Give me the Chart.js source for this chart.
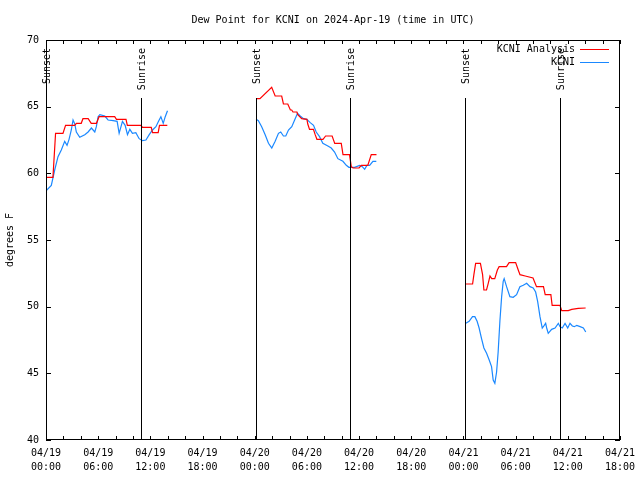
<!DOCTYPE html>
<html>
<head>
<meta charset="utf-8">
<script src="https://cdn.jsdelivr.net/npm/chart.js@4.4.1/dist/chart.umd.min.js"></script>
<style>
  html, body { margin: 0; padding: 0; background: #fff; }
</style>
</head>
<body>
<canvas id="dewChart" width="640" height="480"></canvas>
<script>
// hours since 2024-04-19 00:00 UTC, null dew = gap in the record
const analysisHours = [
  0, 0.8, 1.1, 1.95, 2.25, 3.3, 3.5, 4.05, 4.25, 4.85, 5.2, 5.8, 6.1, 7.9, 8.1, 9.2, 9.35, 10.9, 11.1, 12.1, 12.25, 12.9, 13.05, 13.95,
  19,
  24.15, 24.6, 25.95, 26.35, 27.1, 27.3, 27.8, 28.1, 28.25, 28.4, 28.85, 28.95, 29.25, 29.4, 30.0, 30.1, 30.3, 30.75, 30.95, 31.15, 31.85, 32.15, 32.9, 33.2, 33.95, 34.15, 34.9, 35.1, 35.3, 36.0, 36.25, 37.0, 37.4, 38.0,
  43,
  48.25, 49.05, 49.2, 49.4, 49.95, 50.2, 50.35, 50.65, 50.85, 51.05, 51.25, 51.6, 51.9, 52.1, 52.95, 53.25, 54.0, 54.3, 54.5, 55.1, 56.0, 56.4, 57.2, 57.4, 58.05, 58.2, 59.1, 59.3, 60.05, 60.45, 61.2, 62.05
];
const analysisDew = [
  59.7, 59.7, 63.0, 63.0, 63.6, 63.6, 63.75, 63.75, 64.1, 64.1, 63.75, 63.75, 64.25, 64.25, 64.05, 64.05, 63.6, 63.6, 63.45, 63.45, 63.05, 63.05, 63.6, 63.6,
  null,
  65.6, 65.6, 66.45, 65.8, 65.8, 65.2, 65.2, 64.75, 64.75, 64.6, 64.6, 64.4, 64.2, 64.1, 64.05, 63.7, 63.3, 63.3, 62.9, 62.55, 62.55, 62.8, 62.8, 62.25, 62.25, 61.4, 61.4, 60.5, 60.4, 60.4, 60.6, 60.6, 61.4, 61.4,
  null,
  51.7, 51.7, 52.4, 53.25, 53.25, 52.4, 51.25, 51.25, 51.75, 52.3, 52.1, 52.1, 52.75, 53.0, 53.0, 53.3, 53.3, 52.75, 52.4, 52.3, 52.15, 51.5, 51.5, 50.9, 50.9, 50.1, 50.1, 49.7, 49.7, 49.8, 49.87, 49.9
];

const obsHours = [
  0.03, 0.61, 1.0, 1.38, 1.76, 2.15, 2.42, 2.65, 2.91, 3.11, 3.31, 3.49, 3.88, 4.46, 4.84, 5.22, 5.61, 5.79, 5.99, 6.19, 6.76, 7.14, 7.72, 8.18, 8.41, 8.79, 9.10, 9.37, 9.64, 9.94, 10.33, 10.71, 11.09, 11.49, 11.87, 12.25, 12.64, 12.94, 13.21, 13.48, 13.71, 13.97,
  19,
  24.16, 24.42, 24.80, 25.20, 25.58, 25.96, 26.35, 26.73, 26.99, 27.30, 27.57, 27.88, 28.26, 28.65, 28.92, 29.23, 29.61, 29.99, 30.38, 30.76, 31.07, 31.45, 31.83, 32.41, 32.80, 33.18, 33.56, 34.14, 34.53, 34.83, 35.48, 36.06, 36.37, 36.64, 36.90, 37.21, 37.59, 37.98,
  43,
  48.27, 48.65, 49.04, 49.31, 49.57, 49.80, 50.08, 50.35, 50.66, 50.96, 51.23, 51.42, 51.61, 51.81, 51.99, 52.19, 52.39, 52.57, 52.68, 52.96, 53.34, 53.72, 54.11, 54.49, 54.88, 55.27, 55.65, 56.02, 56.30, 56.53, 56.80, 57.06, 57.29, 57.45, 57.57, 57.75, 58.14, 58.53, 58.91, 59.10, 59.36, 59.68, 59.99, 60.25, 60.52, 60.75, 61.03, 61.41, 61.79, 62.06
];
const obsDew = [
  58.7, 59.1, 60.25, 61.25, 61.75, 62.4, 62.1, 62.55, 63.25, 64.0, 63.7, 63.1, 62.7, 62.9, 63.1, 63.4, 63.1, 63.5, 64.25, 64.4, 64.3, 64.0, 63.95, 63.9, 63.0, 63.9, 63.6, 62.9, 63.3, 63.0, 63.05, 62.6, 62.45, 62.5, 62.9, 63.25, 63.5, 63.9, 64.25, 63.75, 64.25, 64.7,
  null,
  64.05, 63.95, 63.5, 62.9, 62.25, 61.9, 62.4, 63.0, 63.1, 62.8, 62.8, 63.25, 63.5, 64.1, 64.5, 64.3, 64.1, 64.05, 63.8, 63.6, 63.1, 62.75, 62.25, 62.05, 61.9, 61.6, 61.1, 60.9, 60.6, 60.45, 60.45, 60.6, 60.5, 60.3, 60.6, 60.6, 60.9, 60.9,
  null,
  48.75, 48.9, 49.25, 49.25, 48.9, 48.4, 47.6, 46.9, 46.5, 46.0, 45.5, 44.5, 44.25, 45.1, 46.6, 48.9, 50.75, 51.9, 52.1, 51.5, 50.75, 50.7, 50.9, 51.5, 51.6, 51.75, 51.5, 51.4, 51.1, 50.4, 49.25, 48.4, 48.6, 48.75, 48.4, 48.0, 48.3, 48.4, 48.75, 48.5, 48.4, 48.75, 48.4, 48.75, 48.55, 48.5, 48.6, 48.5, 48.4, 48.1
];

const sunHours = [0.05, 10.95, 24.15, 35.0, 48.15, 59.1];
const sunLabels = ['Sunset', 'Sunrise', 'Sunset', 'Sunrise', 'Sunset', 'Sunrise'];

const xTickDates = ['04/19', '04/19', '04/19', '04/19', '04/20', '04/20', '04/20', '04/20', '04/21', '04/21', '04/21', '04/21'];
const xTickTimes = ['00:00', '06:00', '12:00', '18:00', '00:00', '06:00', '12:00', '18:00', '00:00', '06:00', '12:00', '18:00'];

const FONT = '10px "DejaVu Sans Mono", monospace';

function zip(xs, ys) {
    return xs.map((x, i) => ({ x: x, y: ys[i] }));
}

const decorPlugin = {
    id: 'decor',
    afterDraw(chart) {
        const ctx = chart.ctx;
        const a = chart.chartArea;
        const xs = chart.scales.x;
        const ys = chart.scales.y;
        ctx.save();
        ctx.strokeStyle = '#000';
        ctx.lineWidth = 1;

        // frame
        ctx.strokeRect(a.left + 0.5, a.top + 0.5, a.right - a.left - 1, a.bottom - a.top - 1);

        // inward ticks
        ctx.beginPath();
        for (let h = 0; h <= 66; h += 2) {
            const px = Math.round(xs.getPixelForValue(h)) + 0.5;
            ctx.moveTo(px, a.bottom); ctx.lineTo(px, a.bottom - 4);
            ctx.moveTo(px, a.top); ctx.lineTo(px, a.top + 4);
        }
        for (let v = 40; v <= 70; v += 5) {
            const py = Math.round(ys.getPixelForValue(v)) + 0.5;
            ctx.moveTo(a.left, py); ctx.lineTo(a.left + 5, py);
            ctx.moveTo(a.right, py); ctx.lineTo(a.right - 5, py);
        }
        ctx.stroke();

        // sunrise / sunset markers
        ctx.font = FONT;
        ctx.fillStyle = '#000';
        sunHours.forEach((h, i) => {
            const px = Math.round(xs.getPixelForValue(h)) + 0.5;
            ctx.lineWidth = 1;
            ctx.beginPath();
            ctx.moveTo(px, a.bottom);
            ctx.lineTo(px, a.top + 58);
            ctx.stroke();
            ctx.save();
            ctx.translate(px + 1, a.top + 8);
            ctx.rotate(-Math.PI / 2);
            ctx.textAlign = 'right';
            ctx.textBaseline = 'middle';
            ctx.fillText(sunLabels[i], 0, 0);
            ctx.restore();
        });

        // legend
        ctx.lineWidth = 1;
        ctx.textAlign = 'right';
        ctx.textBaseline = 'middle';
        chart.data.datasets.forEach((ds, i) => {
            const ly = a.top + 9 + i * 13;
            ctx.fillStyle = '#000';
            ctx.fillText(ds.label, a.right - 45, ly);
            ctx.strokeStyle = ds.borderColor;
            ctx.beginPath();
            ctx.moveTo(a.right - 40, ly + 0.5);
            ctx.lineTo(a.right - 11, ly + 0.5);
            ctx.stroke();
        });

        // title and y label
        ctx.fillStyle = '#000';
        ctx.textAlign = 'center';
        ctx.textBaseline = 'middle';
        ctx.fillText('Dew Point for KCNI on 2024-Apr-19 (time in UTC)', (a.left + a.right) / 2, 20);
        ctx.save();
        ctx.translate(10, (a.top + a.bottom) / 2);
        ctx.rotate(-Math.PI / 2);
        ctx.fillText('degrees F', 0, 0);
        ctx.restore();
        ctx.restore();
    }
};

const dewChart = new Chart(document.getElementById('dewChart').getContext('2d'), {
    type: 'line',
    data: {
        datasets: [
            {
                label: 'KCNI Analysis',
                data: zip(analysisHours, analysisDew),
                borderColor: '#ff0000',
                borderWidth: 1.2,
                pointRadius: 0,
                tension: 0,
                spanGaps: false
            },
            {
                label: 'KCNI',
                data: zip(obsHours, obsDew),
                borderColor: '#1a88ff',
                borderWidth: 1.2,
                pointRadius: 0,
                tension: 0,
                spanGaps: false
            }
        ]
    },
    options: {
        responsive: false,
        animation: false,
        layout: { padding: { top: 40, right: 20, left: 0, bottom: 0 } },
        plugins: {
            legend: { display: false },
            title: { display: false },
            tooltip: { enabled: false }
        },
        scales: {
            x: {
                type: 'linear',
                min: 0,
                max: 66,
                afterFit: s => { s.height = 40; },
                grid: { display: false },
                border: { display: false },
                ticks: {
                    stepSize: 6,
                    autoSkip: false,
                    maxRotation: 0,
                    padding: -2,
                    color: '#000',
                    font: { family: '"DejaVu Sans Mono", monospace', size: 10, lineHeight: 1.4 },
                    callback: function(value) {
                        const idx = Math.round(value / 6);
                        return [xTickDates[idx], xTickTimes[idx]];
                    }
                }
            },
            y: {
                min: 40,
                max: 70,
                afterFit: s => { s.width = 46; },
                grid: { display: false },
                border: { display: false },
                ticks: {
                    stepSize: 5,
                    padding: -1,
                    color: '#000',
                    font: { family: '"DejaVu Sans Mono", monospace', size: 10 }
                }
            }
        }
    },
    plugins: [decorPlugin]
});
</script>
</body>
</html>
